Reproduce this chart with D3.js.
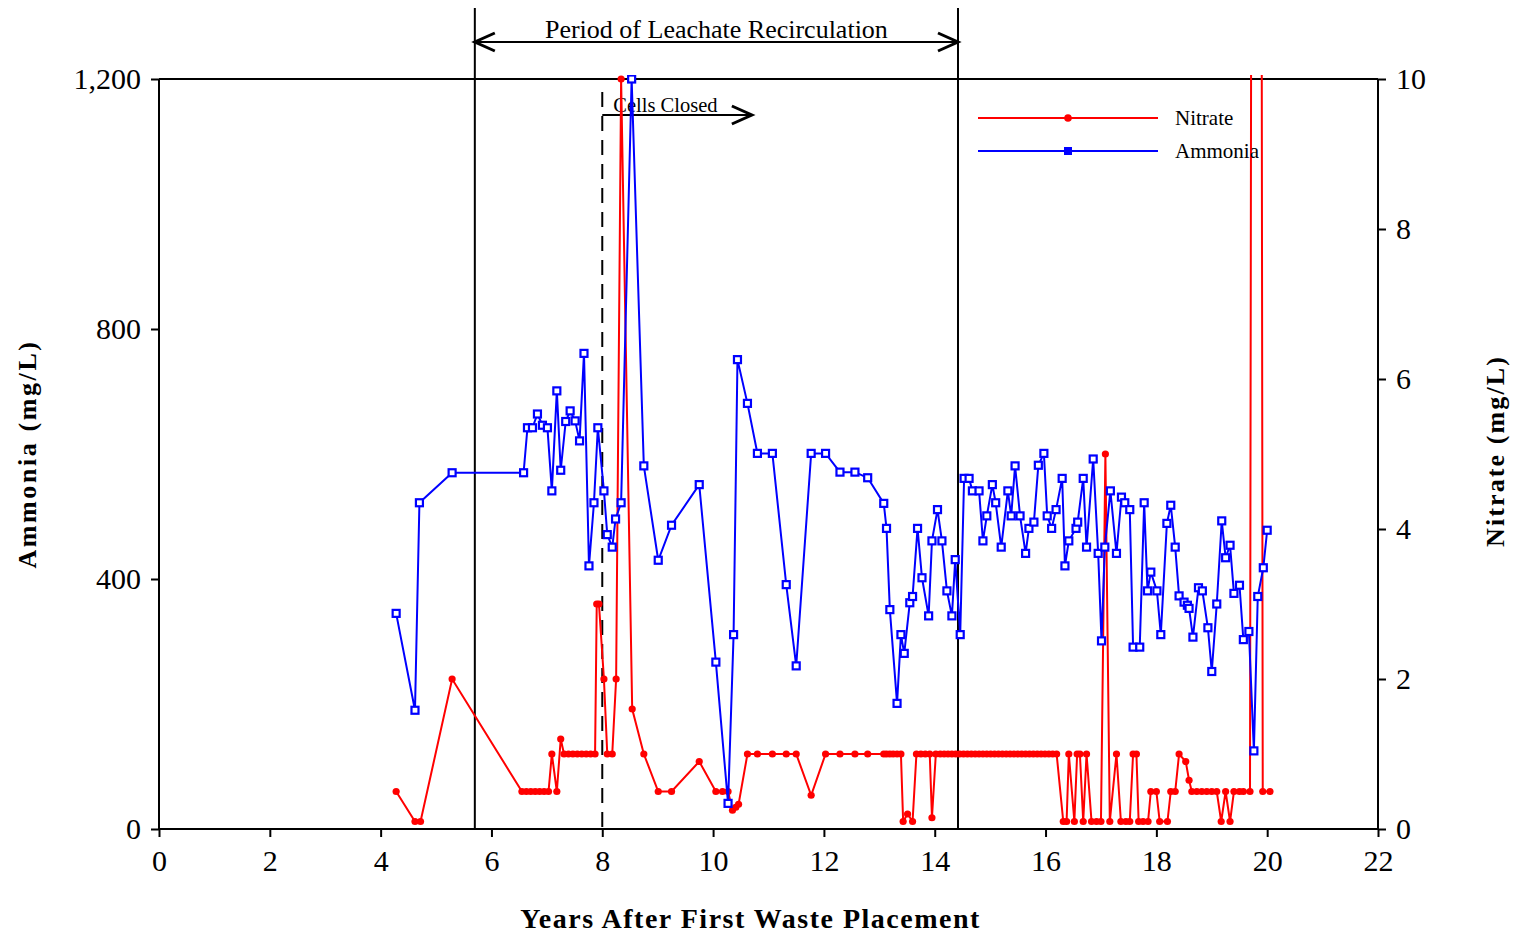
<!DOCTYPE html>
<html>
<head>
<meta charset="utf-8">
<script src="https://cdn.jsdelivr.net/npm/d3@7"></script>
<style>
  html, body { margin: 0; padding: 0; background: #fff; }
  svg { display: block; font-family: "Liberation Serif", "Times New Roman", serif; }
</style>
</head>
<body>
<svg id="chart" width="1516" height="934"></svg>
<script>
// Ammonia (mg/L, left axis) by years after first waste placement
const ammoniaYears = [4.28, 4.62, 4.70, 5.29, 6.58, 6.65, 6.74, 6.83, 6.92, 7.01, 7.09, 7.18, 7.25, 7.34, 7.42, 7.51, 7.59, 7.67, 7.76, 7.85, 7.92, 8.03, 8.09, 8.18, 8.24, 8.34, 8.53, 8.75, 9.01, 9.25, 9.75, 10.05, 10.27, 10.37, 10.44, 10.62, 10.80, 11.07, 11.32, 11.50, 11.77, 12.03, 12.29, 12.56, 12.79, 13.08, 13.13, 13.19, 13.32, 13.39, 13.45, 13.55, 13.60, 13.69, 13.77, 13.89, 13.95, 14.05, 14.13, 14.22, 14.31, 14.37, 14.46, 14.53, 14.62, 14.68, 14.80, 14.87, 14.94, 15.04, 15.10, 15.20, 15.32, 15.38, 15.45, 15.54, 15.64, 15.70, 15.79, 15.87, 15.97, 16.03, 16.11, 16.19, 16.30, 16.35, 16.42, 16.55, 16.58, 16.68, 16.74, 16.86, 16.95, 17.01, 17.07, 17.17, 17.28, 17.37, 17.43, 17.52, 17.58, 17.70, 17.78, 17.84, 17.90, 18.01, 18.08, 18.19, 18.26, 18.34, 18.41, 18.50, 18.56, 18.59, 18.66, 18.76, 18.83, 18.93, 19.00, 19.09, 19.18, 19.25, 19.33, 19.40, 19.50, 19.57, 19.67, 19.76, 19.83, 19.93, 20.00];
const ammoniaValues = [345, 190, 522, 570, 570, 642, 642, 664, 646, 642, 541, 701, 574, 652, 669, 653, 621, 761, 421, 522, 642, 541, 471, 451, 496, 522, 1200, 581, 430, 486, 551, 267, 41, 311, 751, 681, 601, 601, 391, 261, 601, 601, 571, 571, 562, 521, 481, 351, 201, 311, 281, 362, 372, 481, 402, 341, 461, 511, 461, 381, 341, 431, 311, 561, 561, 541, 541, 461, 501, 551, 522, 451, 541, 501, 581, 501, 441, 481, 491, 582, 601, 501, 481, 511, 561, 421, 461, 481, 491, 561, 451, 592, 441, 301, 451, 541, 441, 531, 522, 511, 291, 291, 522, 381, 411, 381, 311, 489, 518, 451, 373, 363, 358, 353, 307, 386, 381, 322, 252, 360, 493, 434, 454, 377, 390, 303, 316, 125, 372, 418, 478];

// Nitrate (mg/L, right axis)
const nitrateYears = [4.28, 4.62, 4.72, 5.29, 6.55, 6.63, 6.71, 6.79, 6.87, 6.95, 7.03, 7.09, 7.18, 7.25, 7.31, 7.39, 7.47, 7.55, 7.63, 7.71, 7.79, 7.87, 7.90, 7.94, 8.03, 8.09, 8.18, 8.25, 8.34, 8.54, 8.75, 9.01, 9.25, 9.75, 10.05, 10.17, 10.27, 10.35, 10.41, 10.46, 10.62, 10.80, 11.07, 11.32, 11.50, 11.77, 12.03, 12.29, 12.56, 12.79, 13.08, 13.13, 13.19, 13.25, 13.32, 13.39, 13.43, 13.51, 13.60, 13.67, 13.75, 13.83, 13.91, 13.95, 14.02, 14.10, 14.17, 14.24, 14.31, 14.38, 14.45, 14.52, 14.59, 14.66, 14.73, 14.80, 14.87, 14.94, 15.01, 15.08, 15.15, 15.22, 15.29, 15.36, 15.43, 15.50, 15.57, 15.64, 15.71, 15.78, 15.85, 15.92, 15.99, 16.06, 16.13, 16.20, 16.32, 16.38, 16.42, 16.52, 16.57, 16.62, 16.68, 16.74, 16.83, 16.92, 17.00, 17.08, 17.16, 17.28, 17.36, 17.45, 17.52, 17.58, 17.64, 17.68, 17.76, 17.85, 17.90, 18.00, 18.06, 18.20, 18.26, 18.34, 18.41, 18.53, 18.59, 18.64, 18.73, 18.82, 18.91, 19.00, 19.09, 19.17, 19.25, 19.33, 19.40, 19.50, 19.57, 19.69, 19.81, 19.92, 20.05];
const nitrateValues = [0.5, 0.1, 0.1, 2.0, 0.5, 0.5, 0.5, 0.5, 0.5, 0.5, 0.5, 1.0, 0.5, 1.2, 1.0, 1.0, 1.0, 1.0, 1.0, 1.0, 1.0, 1.0, 3.0, 3.0, 2.0, 1.0, 1.0, 2.0, 10, 1.6, 1.0, 0.5, 0.5, 0.9, 0.5, 0.5, 0.5, 0.25, 0.29, 0.33, 1.0, 1.0, 1.0, 1.0, 1.0, 0.45, 1.0, 1.0, 1.0, 1.0, 1.0, 1.0, 1.0, 1.0, 1.0, 1.0, 0.1, 0.2, 0.1, 1.0, 1.0, 1.0, 1.0, 0.15, 1.0, 1.0, 1.0, 1.0, 1.0, 1.0, 1.0, 1.0, 1.0, 1.0, 1.0, 1.0, 1.0, 1.0, 1.0, 1.0, 1.0, 1.0, 1.0, 1.0, 1.0, 1.0, 1.0, 1.0, 1.0, 1.0, 1.0, 1.0, 1.0, 1.0, 1.0, 1.0, 0.1, 0.1, 1.0, 0.1, 1.0, 1.0, 0.1, 1.0, 0.1, 0.1, 0.1, 5.0, 0.1, 1.0, 0.1, 0.1, 0.1, 1.0, 1.0, 0.1, 0.1, 0.1, 0.5, 0.5, 0.1, 0.1, 0.5, 0.5, 1.0, 0.9, 0.65, 0.5, 0.5, 0.5, 0.5, 0.5, 0.5, 0.1, 0.5, 0.1, 0.5, 0.5, 0.5, 0.5, 60, 0.5, 0.5];

// Axis ticks
const xTicks = [0, 2, 4, 6, 8, 10, 12, 14, 16, 18, 20, 22];
const ammoniaTicks = [0, 400, 800, 1200];
const nitrateTicks = [0, 2, 4, 6, 8, 10];

// Event markers (years)
const recirculationStart = 5.7;
const recirculationEnd = 14.42;
const cellsClosed = 8.0;
const cellsClosedArrowEnd = 10.7;

const svg = d3.select("#chart");
const plot = { left: 159, right: 1378, top: 79, bottom: 829 };

const x = d3.scaleLinear().domain([0, 22]).range([plot.left, plot.right]);
const yA = d3.scaleLinear().domain([0, 1200]).range([plot.bottom, plot.top]);
const yN = d3.scaleLinear().domain([0, 10]).range([plot.bottom, plot.top]);

const RED = "#ff0000";
const BLUE = "#0000ff";

svg.append("defs").append("clipPath").attr("id", "plotClip")
  .append("rect")
  .attr("x", plot.left).attr("y", plot.top - 4)
  .attr("width", plot.right - plot.left).attr("height", plot.bottom - plot.top + 8);

// Frame: top border line
svg.append("line")
  .attr("x1", plot.left).attr("x2", plot.right)
  .attr("y1", plot.top).attr("y2", plot.top)
  .attr("stroke", "#000").attr("stroke-width", 2);

// Axes
const tickFont = "30px";
const xAxis = svg.append("g")
  .attr("transform", `translate(0,${plot.bottom})`)
  .call(d3.axisBottom(x).tickValues(xTicks).tickSize(8).tickPadding(13).tickFormat(d3.format("d")));
const yAxisL = svg.append("g")
  .attr("transform", `translate(${plot.left},0)`)
  .call(d3.axisLeft(yA).tickValues(ammoniaTicks).tickSize(8).tickPadding(10).tickFormat(d3.format(",")));
const yAxisR = svg.append("g")
  .attr("transform", `translate(${plot.right},0)`)
  .call(d3.axisRight(yN).tickValues(nitrateTicks).tickSize(8).tickPadding(10).tickFormat(d3.format("d")));

[xAxis, yAxisL, yAxisR].forEach(g => {
  g.select(".domain").attr("stroke", "#000").attr("stroke-width", 2);
  g.selectAll(".tick line").attr("stroke", "#000").attr("stroke-width", 2);
  g.selectAll(".tick text")
    .attr("fill", "#000")
    .style("font-family", "'Liberation Serif', serif")
    .style("font-size", tickFont);
});
// plain frame lines, without the outer tick ends of the domain paths
xAxis.select(".domain").attr("d", `M${plot.left},0H${plot.right}`);
yAxisL.select(".domain").attr("d", `M0,${plot.top}V${plot.bottom}`);
yAxisR.select(".domain").attr("d", `M0,${plot.top}V${plot.bottom}`);

// Axis titles
svg.append("text")
  .attr("x", x(11) - 18).attr("y", 928)
  .attr("text-anchor", "middle")
  .style("font-size", "28px").style("font-weight", "bold").style("letter-spacing", "1.5px")
  .text("Years After First Waste Placement");

svg.append("text")
  .attr("transform", `translate(36,${(plot.top + plot.bottom) / 2}) rotate(-90)`)
  .attr("text-anchor", "middle")
  .style("font-size", "26px").style("font-weight", "bold").style("letter-spacing", "2.6px")
  .text("Ammonia (mg/L)");

svg.append("text")
  .attr("transform", `translate(1504,${(plot.top + plot.bottom) / 2 - 3}) rotate(-90)`)
  .attr("text-anchor", "middle")
  .style("font-size", "26px").style("font-weight", "bold").style("letter-spacing", "2.1px")
  .text("Nitrate (mg/L)");

// Recirculation period boundaries and cell closure
svg.append("line")
  .attr("x1", x(recirculationStart)).attr("x2", x(recirculationStart))
  .attr("y1", 8).attr("y2", plot.bottom)
  .attr("stroke", "#000").attr("stroke-width", 2);
svg.append("line")
  .attr("x1", x(recirculationEnd)).attr("x2", x(recirculationEnd))
  .attr("y1", 8).attr("y2", plot.bottom)
  .attr("stroke", "#000").attr("stroke-width", 2);
svg.append("line")
  .attr("x1", x(cellsClosed)).attr("x2", x(cellsClosed))
  .attr("y1", 92).attr("y2", plot.bottom)
  .attr("stroke", "#000").attr("stroke-width", 2)
  .attr("stroke-dasharray", "15,9");

// Arrows
function arrowHead(xTip, y, dir) {
  const len = 20, half = 9;
  svg.append("path")
    .attr("d", `M${xTip - dir * len},${y - half}L${xTip},${y}L${xTip - dir * len},${y + half}`)
    .attr("fill", "none").attr("stroke", "#000").attr("stroke-width", 3)
    .attr("stroke-linejoin", "miter");
}
const yPeriod = 42;
svg.append("line")
  .attr("x1", x(recirculationStart)).attr("x2", x(recirculationEnd))
  .attr("y1", yPeriod).attr("y2", yPeriod)
  .attr("stroke", "#000").attr("stroke-width", 2);
arrowHead(x(recirculationStart), yPeriod, -1);
arrowHead(x(recirculationEnd), yPeriod, 1);
svg.append("text")
  .attr("x", (x(recirculationStart) + x(recirculationEnd)) / 2).attr("y", 38)
  .attr("text-anchor", "middle")
  .style("font-size", "26px")
  .text("Period of Leachate Recirculation");

const yCells = 115;
svg.append("line")
  .attr("x1", x(cellsClosed)).attr("x2", x(cellsClosedArrowEnd))
  .attr("y1", yCells).attr("y2", yCells)
  .attr("stroke", "#000").attr("stroke-width", 2);
arrowHead(x(cellsClosedArrowEnd), yCells, 1);
svg.append("text")
  .attr("x", x(cellsClosed) + 11).attr("y", 112)
  .style("font-size", "20.5px")
  .text("Cells Closed");

// Data series
const nitrate = nitrateYears.map((d, i) => ({ x: d, y: nitrateValues[i] }));
const ammonia = ammoniaYears.map((d, i) => ({ x: d, y: ammoniaValues[i] }));

const dataLayer = svg.append("g").attr("clip-path", "url(#plotClip)");

dataLayer.append("path")
  .datum(nitrate)
  .attr("fill", "none").attr("stroke", RED).attr("stroke-width", 2)
  .attr("d", d3.line().x(d => x(d.x)).y(d => yN(d.y)));
dataLayer.selectAll(".nmark")
  .data(nitrate.filter(d => d.y <= 10))
  .join("circle")
  .attr("class", "nmark")
  .attr("cx", d => x(d.x)).attr("cy", d => yN(d.y))
  .attr("r", 3.6).attr("fill", RED);

dataLayer.append("path")
  .datum(ammonia)
  .attr("fill", "none").attr("stroke", BLUE).attr("stroke-width", 2)
  .attr("d", d3.line().x(d => x(d.x)).y(d => yA(d.y)));
dataLayer.selectAll(".amark")
  .data(ammonia)
  .join("rect")
  .attr("class", "amark")
  .attr("x", d => x(d.x) - 3.5).attr("y", d => yA(d.y) - 3.5)
  .attr("width", 7).attr("height", 7)
  .attr("fill", "#fff").attr("stroke", BLUE).attr("stroke-width", 2.2);

// Legend
const legend = [
  { name: "Nitrate", color: RED, y: 118, shape: "circle" },
  { name: "Ammonia", color: BLUE, y: 151, shape: "square" }
];
legend.forEach(l => {
  svg.append("line")
    .attr("x1", 978).attr("x2", 1158).attr("y1", l.y).attr("y2", l.y)
    .attr("stroke", l.color).attr("stroke-width", 2);
  if (l.shape === "circle") {
    svg.append("circle").attr("cx", 1068).attr("cy", l.y).attr("r", 3.8).attr("fill", l.color);
  } else {
    svg.append("rect").attr("x", 1064).attr("y", l.y - 4).attr("width", 8).attr("height", 8).attr("fill", l.color);
  }
  svg.append("text")
    .attr("x", 1175).attr("y", l.y + 7)
    .style("font-size", "21px")
    .text(l.name);
});
</script>
</body>
</html>
